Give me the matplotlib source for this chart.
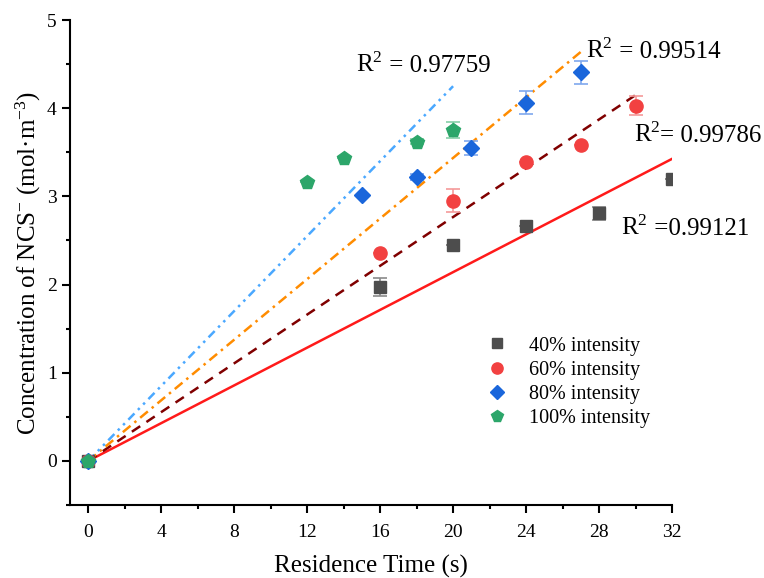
import numpy as np
import matplotlib
matplotlib.use("Agg")
import matplotlib.pyplot as plt
from matplotlib.ticker import MultipleLocator

plt.rcParams['font.family'] = ['Liberation Serif', 'DejaVu Serif']
plt.rcParams['mathtext.fontset'] = 'custom'
plt.rcParams['mathtext.rm'] = 'Liberation Serif'
plt.rcParams['mathtext.it'] = 'Liberation Serif:italic'

# ---- data ----
labels = ['40% intensity', '60% intensity', '80% intensity', '100% intensity']
x40 = [0, 16, 20, 24, 28, 32]
y40 = [0, 1.97, 2.45, 2.66, 2.81, 3.20]
e40 = [0, 0.10, 0.0, 0.0, 0.075, 0.0]
x60 = [0, 16, 20, 24, 27, 30]
y60 = [0, 2.36, 2.95, 3.39, 3.58, 4.03]
e60 = [0, 0.0, 0.13, 0.0, 0.0, 0.11]
x80 = [0, 15, 18, 21, 24, 27]
y80 = [0, 3.02, 3.22, 3.55, 4.06, 4.41]
e80 = [0, 0.0, 0.03, 0.08, 0.13, 0.13]
x100 = [0, 12, 14, 18, 20]
y100 = [0, 3.16, 3.43, 3.62, 3.75]
e100 = [0, 0.0, 0.0, 0.03, 0.09]
r2_values = [' =0.99121', '= 0.99786', ' = 0.99514', ' = 0.97759']

xs = [x40, x60, x80, x100]
ys = [y40, y60, y80, y100]
es = [e40, e60, e80, e100]

marker_colors = ['#4d4d4d', '#f24141', '#1a66db', '#2ca66a']
err_colors = ['#8a8a8a', '#f59a9a', '#7fa8ee', '#86cfa8']
markers = ['s', 'o', 'D', 'p']
msizes = [8, 9.5, 8, 10]
line_colors = ['#ff1a1a', '#800000', '#ff8c00', '#4aa8ff']
line_styles = ['-', (0, (4, 3)), (0, (4, 2, 1, 2)), (0, (3.5, 2, 1, 2, 1, 2))]
r2_pos = [(29.2, 2.64), (29.9, 3.70), (27.3, 4.65), (14.7, 4.49)]

fig = plt.figure(figsize=(7.64, 5.78), dpi=100)
ax = fig.add_axes([0.0916, 0.1263, 0.788, 0.839])

for i in range(4):
    x = np.array(xs[i], float)
    y = np.array(ys[i], float)
    slope = np.sum(x * y) / np.sum(x * x)
    xl = np.array([0, x.max()])
    ax.plot(xl, slope * xl, color=line_colors[i], ls=line_styles[i], lw=1.8, zorder=2)

for i in range(4):
    x = np.array(xs[i], float)
    y = np.array(ys[i], float)
    e = np.array(es[i], float)
    ax.errorbar(x, y, yerr=e, fmt='none', ecolor=err_colors[i], elinewidth=1.2,
                capsize=5, capthick=1.2, zorder=3)

for i in range(4):
    ax.plot(xs[i], ys[i], ls='none', marker=markers[i], ms=msizes[i],
            color=marker_colors[i], mec=marker_colors[i], label=labels[i], zorder=4)

for i in range(4):
    t1 = ax.text(r2_pos[i][0], r2_pos[i][1], 'R$^2$', fontsize=18, va='center', ha='left')
    ax.annotate(r2_values[i], xy=(1, 0), xycoords=t1, xytext=(0, 0), textcoords='offset points',
                fontsize=18, va='bottom', ha='left')

ax.set_xlim(-1, 32)
ax.set_ylim(-0.5, 5)
ax.xaxis.set_major_locator(MultipleLocator(4))
ax.xaxis.set_minor_locator(MultipleLocator(2))
ax.yaxis.set_major_locator(MultipleLocator(1))
ax.yaxis.set_minor_locator(MultipleLocator(0.5))
ax.spines['top'].set_visible(False)
ax.spines['right'].set_visible(False)
for s in ['left', 'bottom']:
    ax.spines[s].set_linewidth(1.5)
ax.tick_params(which='major', length=6, width=1.5, labelsize=14, direction='out')
ax.tick_params(which='minor', length=3, width=1.5, direction='out')
ax.tick_params(axis='x', pad=8)

ax.set_xlabel('Residence Time (s)', fontsize=18, labelpad=10)
ax.set_ylabel('Concentration of NCS$^{\\mathregular{-}}$ (mol\u00b7m$^{\\mathregular{-3}}$)', fontsize=18, labelpad=3)

ax.legend(loc='upper left', bbox_to_anchor=(0.645, 0.385), frameon=False, fontsize=14.5,
          handletextpad=0.6, labelspacing=0.25, markerscale=0.85)

fig.savefig('out.png', dpi=100)
